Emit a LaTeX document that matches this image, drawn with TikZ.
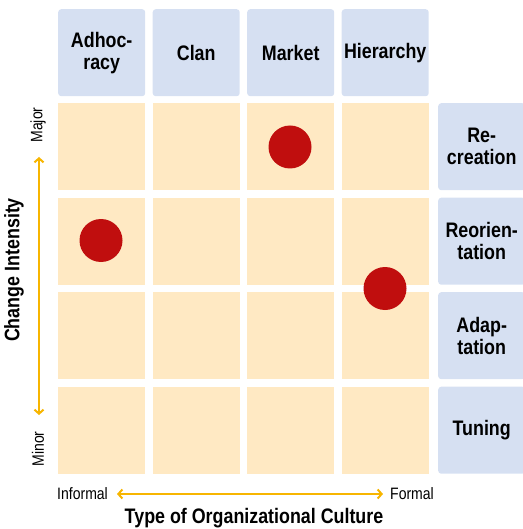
\documentclass[tikz,border=0pt]{standalone}
\usepackage{fontspec}
\setmainfont{Liberation Sans}[FakeStretch=0.85]
\usetikzlibrary{arrows.meta}
\definecolor{hdrblue}{HTML}{D6E0F2}
\definecolor{cellbeige}{HTML}{FFE9C3}
\definecolor{dotred}{HTML}{C00E0E}
\definecolor{arrgold}{HTML}{F7B500}
\begin{document}
\begin{tikzpicture}[x=1pt,y=-1pt,
  hdr/.style={rectangle, rounded corners=3pt, fill=hdrblue, minimum width=87pt, minimum height=87pt, anchor=north west, inner sep=0pt, align=center, font=\fontsize{21}{22}\selectfont\bfseries},
  cellbox/.style={rectangle, fill=cellbeige, minimum width=87pt, minimum height=87pt, anchor=north west, inner sep=0pt},
  dot/.style={circle, fill=dotred, minimum size=43pt, inner sep=0pt},
  axisarrow/.style={draw=arrgold, line width=2.4pt, {Straight Barb[length=4pt,width=9pt,line width=2pt]}-{Straight Barb[length=4pt,width=9pt,line width=2pt]}},
  small/.style={font=\fontsize{16.5}{18}\selectfont, inner sep=0pt},
  axistitle/.style={font=\fontsize{21}{22}\selectfont\bfseries, inner sep=0pt}
]
\useasboundingbox (0,0) rectangle (522,529);
% header row
\node[hdr] (hA) at (58,9) {Adhoc-\\racy};
\node[hdr] (hC) at (152.5,9) {Clan};
\node[hdr] (hM) at (247,9) {Market};
\node[hdr] (hH) at (341.5,9) {Hierarchy};
% grid cells
\foreach \c/\x in {1/58,2/152.5,3/247,4/341.5}{
  \foreach \r/\y in {1/103,2/197.5,3/292,4/386.5}{
    \node[cellbox] (c\r\c) at (\x,\y) {};
  }
}
% right labels
\node[hdr] (rR) at (438,103) {Re-\\creation};
\node[hdr] (rO) at (438,197.5) {Reorien-\\tation};
\node[hdr] (rA) at (438,292) {Adap-\\tation};
\node[hdr] (rT) at (438,386.5) {Tuning};
% dots
\node[dot] (d1) at (290,147) {};
\node[dot] (d2) at (101,240.5) {};
\node[dot] (d3) at (385,288.5) {};
% vertical axis
\coordinate (vtop) at (39,157);
\coordinate (vbot) at (39,415);
\draw[axisarrow] (vtop) -- (vbot);
\node[small, rotate=90] (major) at (38,125) {Major};
\node[small, rotate=90] (minor) at (38,449) {Minor};
\node[axistitle, rotate=90] (ci) at (14,270) {Change Intensity};
% horizontal axis
\coordinate (hl) at (117,494);
\coordinate (hr) at (383,494);
\draw[axisarrow] (hl) -- (hr);
\node[small, anchor=west] (inf) at (57,494) {Informal};
\node[small, anchor=west] (form) at (390,494) {Formal};
\node[axistitle] (toc) at (254,518) {Type of Organizational Culture};
\end{tikzpicture}
\end{document}
